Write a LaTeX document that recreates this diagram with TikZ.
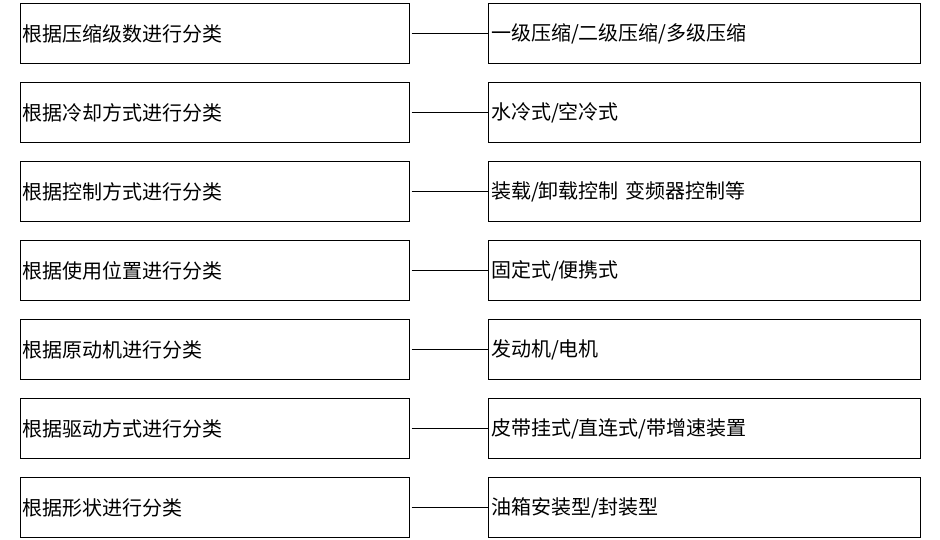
\documentclass[tikz,border=0pt]{standalone}
\usepackage{fontspec}
\newfontfamily\cjk{Noto Sans CJK SC}
\begin{document}
\begin{tikzpicture}[x=1pt,y=-1pt,
  cat/.style={draw=black,line width=1pt,minimum width=389pt,minimum height=60pt,anchor=north west,inner xsep=0pt,inner ysep=0pt,font=\cjk\fontsize{20pt}{22pt}\selectfont,text width=383pt,align=left},
  val/.style={cat,minimum width=432pt,text width=426pt},
  link/.style={draw=black,line width=1pt}]
\useasboundingbox (0,0) rectangle (940,540);
\foreach \i/\a/\b in {0/{根据压缩级数进行分类}/{一级压缩/二级压缩/多级压缩},
                      1/{根据冷却方式进行分类}/{水冷式/空冷式},
                      2/{根据控制方式进行分类}/{装载/卸载控制 变频器控制等},
                      3/{根据使用位置进行分类}/{固定式/便携式},
                      4/{根据原动机进行分类}/{发动机/电机},
                      5/{根据驱动方式进行分类}/{皮带挂式/直连式/带增速装置},
                      6/{根据形状进行分类}/{油箱安装型/封装型}}{
  \node[cat] (L\i) at (19.5,{3+79*\i}) {\a};
  \node[val] (R\i) at (487.5,{3+79*\i}) {\b};
  \draw[link] ([xshift=2pt]L\i.east) -- (R\i.west);
}
\end{tikzpicture}
\end{document}
